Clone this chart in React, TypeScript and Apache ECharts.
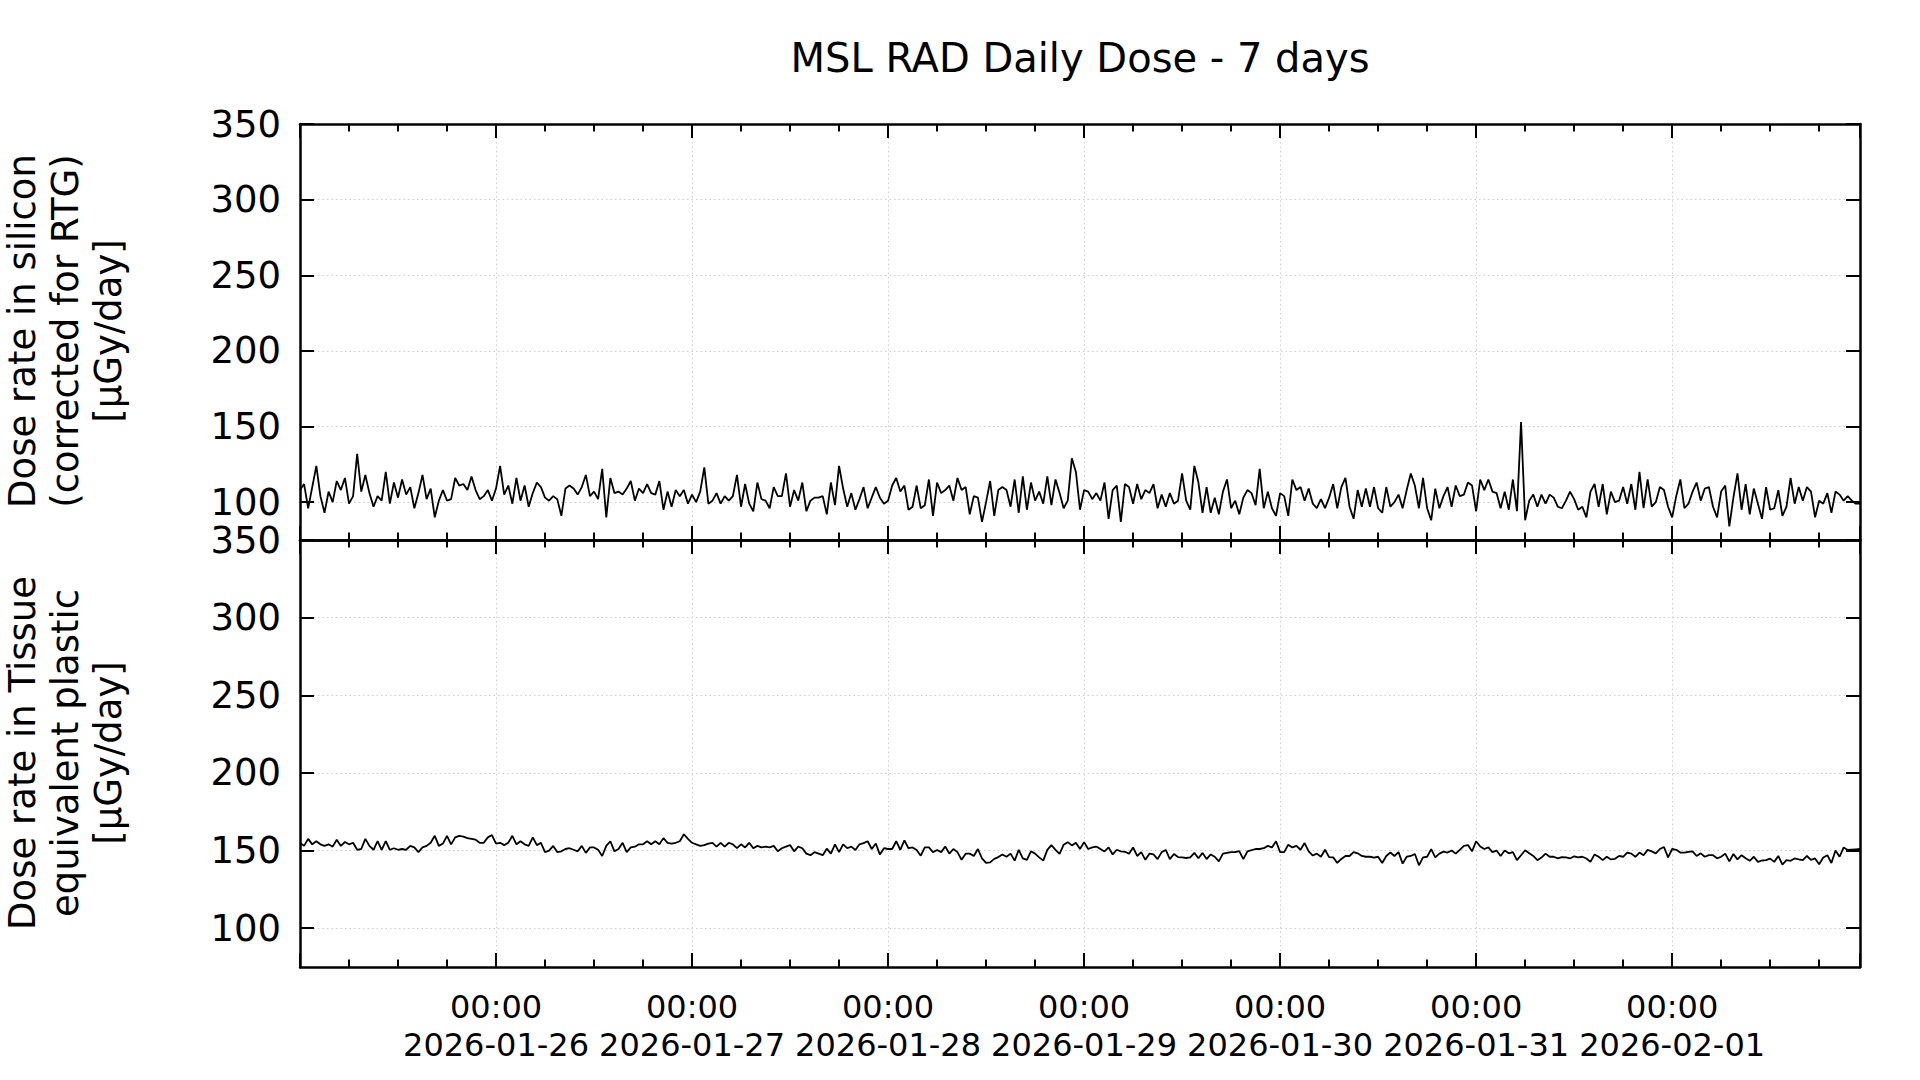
import React, { useEffect, useRef } from "react";
import * as echarts from "echarts";

// Dose rate in silicon (µGy/day), one value every 30 minutes from 2026-01-25 00:00
const SILICON_DOSE = [
  108, 112, 96, 110, 124, 104, 93, 107, 100, 114,
  108, 116, 99, 104, 132, 107, 118, 106, 97, 104,
  101, 120, 99, 113, 103, 115, 105, 110, 96, 106,
  118, 102, 109, 90, 101, 108, 101, 102, 116, 111,
  112, 108, 117, 108, 102, 104, 108, 101, 109, 124,
  105, 111, 99, 116, 101, 111, 97, 106, 113, 110,
  103, 101, 104, 102, 91, 109, 111, 109, 105, 110,
  118, 104, 107, 102, 122, 90, 116, 106, 107, 105,
  109, 114, 101, 109, 106, 112, 106, 105, 114, 95,
  107, 97, 108, 104, 108, 99, 105, 100, 107, 123,
  99, 101, 106, 99, 104, 101, 104, 118, 97, 112,
  99, 94, 113, 102, 101, 96, 110, 104, 104, 119,
  97, 108, 101, 113, 94, 101, 103, 103, 104, 92,
  113, 98, 124, 109, 97, 106, 95, 102, 110, 96,
  103, 110, 103, 99, 101, 111, 116, 107, 111, 95,
  97, 111, 96, 98, 115, 91, 113, 106, 108, 111,
  101, 116, 108, 110, 92, 104, 103, 87, 100, 114,
  91, 108, 110, 108, 97, 115, 93, 117, 95, 113,
  101, 107, 99, 117, 98, 115, 106, 96, 101, 129,
  120, 95, 108, 107, 102, 106, 101, 113, 89, 108,
  111, 87, 112, 110, 99, 112, 102, 108, 106, 112,
  96, 105, 97, 106, 99, 101, 119, 101, 95, 124,
  113, 93, 110, 93, 103, 92, 107, 115, 96, 101,
  92, 103, 108, 106, 98, 122, 96, 107, 96, 91,
  106, 104, 91, 115, 108, 110, 101, 109, 99, 96,
  102, 96, 103, 112, 96, 110, 116, 97, 89, 108,
  97, 109, 97, 110, 96, 93, 110, 97, 100, 105,
  96, 108, 119, 111, 96, 116, 96, 88, 109, 96,
  104, 110, 97, 111, 104, 105, 113, 111, 94, 115,
  108, 115, 107, 106, 96, 107, 95, 115, 94, 153,
  88, 101, 105, 97, 105, 99, 105, 103, 97, 96,
  101, 107, 102, 95, 97, 90, 107, 112, 97, 112,
  92, 107, 100, 101, 110, 99, 112, 95, 120, 96,
  115, 97, 100, 110, 108, 97, 90, 104, 115, 96,
  99, 107, 113, 101, 109, 110, 97, 90, 107, 111,
  84, 103, 119, 95, 112, 92, 109, 99, 89, 110,
  95, 96, 108, 91, 97, 116, 99, 110, 101, 110,
  107, 90, 101, 99, 106, 93, 107, 105, 101, 104,
  101, 99, 99,
];

// Dose rate in tissue equivalent plastic (µGy/day), same sampling
const TISSUE_DOSE = [
  155, 153, 157.5, 154, 156, 154, 153, 154, 152.5, 157,
  153, 155.5, 154, 155, 150.5, 151, 157.5, 153, 150.5, 156,
  150.5, 156, 150.5, 151.5, 150.5, 151, 150.5, 153, 152, 149,
  152, 153, 155, 159.5, 153, 154.5, 159.5, 154, 158.5, 159.5,
  159, 158, 157.5, 157, 155, 155, 158.5, 160, 154.5, 155,
  153.5, 155, 159.5, 154, 156, 154, 153, 158.5, 153.5, 155,
  149, 150, 153, 149, 149.5, 151, 151.5, 150.5, 149.5, 153,
  148.5, 152, 152, 150.5, 146.5, 153, 156, 149.5, 151, 155,
  149, 152, 152.5, 154, 154, 156, 154, 156, 154, 158,
  155, 154.5, 155, 156, 160.5, 157.5, 155, 154, 153, 153.5,
  154.5, 155, 152.5, 155, 152.5, 155, 154, 151.5, 154, 152,
  155, 151.5, 153, 152, 152.5, 152, 153, 149.5, 151.5, 152.5,
  153.5, 149.5, 152.5, 151.5, 148, 147, 149, 148, 147, 151.2,
  148, 154, 149, 154, 151.5, 152.5, 150.4, 154, 154.8, 156,
  151, 154.5, 147.4, 151.5, 151, 151, 156, 150.4, 156.5, 151.5,
  152, 150.4, 146.7, 152, 152, 149, 150.4, 149, 152.6, 148,
  151, 149, 144, 148, 148, 146.5, 151, 145, 142, 142.4,
  144.6, 145.8, 147.5, 146, 148, 143.5, 150.5, 145, 144, 149.5,
  148, 145.6, 143.5, 150.4, 153.5, 150.4, 147.8, 153.8, 155.4, 153.3,
  155, 151, 155.4, 151, 152, 152.6, 151, 149.4, 152, 147.5,
  150.5, 149.5, 149.2, 148, 152, 146.5, 149, 144, 148, 147.5,
  144.5, 149, 150.4, 144.5, 147.8, 145.8, 145.6, 145.2, 145.6, 148.5,
  145, 148.5, 144.5, 147.5, 146, 143, 148, 148.5, 149, 149,
  149.6, 144.5, 149.5, 150.2, 151, 151, 151.5, 153, 152, 156,
  149, 149, 153.8, 152, 153, 150.5, 154.8, 149.5, 146.8, 148,
  146, 150.5, 145.8, 145.6, 142, 144.6, 146.5, 146.5, 149, 148.2,
  146.5, 146, 146, 145.5, 146, 142, 146.5, 148.7, 146.5, 149,
  141.6, 146, 146.5, 147.8, 140.5, 145.6, 146, 150.9, 145.6, 148,
  149.3, 148.7, 150, 148, 150.4, 153, 153.5, 149.5, 156, 152.6,
  151, 152, 149, 150, 146.5, 150, 148.2, 149, 143.8, 147,
  150.2, 148.2, 146.5, 143.8, 145.5, 148, 146, 146, 145, 145.8,
  145.6, 144.9, 146.3, 145.6, 146, 144.9, 142.7, 147.5, 146, 143.8,
  146, 144.3, 144.7, 146.5, 146, 148.7, 148, 146, 148.7, 147,
  150.4, 149.5, 148.2, 151, 152.3, 145.6, 151, 150.5, 148.7, 148.7,
  149.2, 149.5, 146.5, 148.2, 146, 147, 147, 145, 146, 148,
  143, 147.8, 144.3, 147, 145, 143.4, 146, 142.7, 143.6, 143.8,
  144.8, 142.7, 146.5, 141, 143.8, 143.4, 144.9, 144.3, 143.8, 146.5,
  144, 144.9, 141.2, 145.5, 147, 142, 150, 146, 152, 150.4,
  150.6, 150.8, 151,
];

// x axis in hours since 2026-01-25 00:00
const STEP_HOURS = 0.5;
const X_MIN = 0;
const X_MAX = 191;
const DAY_LABELS = [
  "2026-01-26",
  "2026-01-27",
  "2026-01-28",
  "2026-01-29",
  "2026-01-30",
  "2026-01-31",
  "2026-02-01",
];
const Y_TICKS = [100, 150, 200, 250, 300, 350];
const Y_MIN = 75;
const Y_MAX = 350;

const TITLE = "MSL RAD Daily Dose - 7 days";
const Y_NAME_TOP = "Dose rate in silicon\n(corrected for RTG)\n[µGy/day]";
const Y_NAME_BOTTOM = "Dose rate in Tissue\nequivalent plastic\n[µGy/day]";

const FONT = "DejaVu Sans";

function toPoints(values: number[]) {
  return values.map((v, i) => [X_MIN + i * STEP_HOURS, v]);
}

const gridLine = {
  show: true,
  lineStyle: { color: "#cccccc", width: 1, type: [1.5, 3] as any },
};

function xAxesFor(gridIndex: number, showLabels: boolean) {
  const base = {
    type: "value",
    gridIndex,
    min: X_MIN,
    max: X_MAX,
    axisLabel: { show: false },
    splitLine: { show: false },
  };
  const axisLine = {
    show: true,
    onZero: false,
    lineStyle: { color: "#000", width: 2.5 },
  };
  const majorTick = {
    show: true,
    inside: true,
    length: 14,
    lineStyle: { color: "#000", width: 2 },
  };
  const minorTick = {
    show: true,
    inside: true,
    length: 7.5,
    lineStyle: { color: "#000", width: 2 },
  };
  return [
    {
      ...base,
      position: "bottom",
      interval: 24,
      axisLine,
      axisTick: majorTick,
      splitLine: gridLine,
      axisLabel: showLabels
        ? {
            show: true,
            color: "#000",
            fontFamily: FONT,
            fontSize: 32,
            lineHeight: 38,
            margin: 21,
            formatter: (v: number) => {
              if (v <= 0 || v % 24 !== 0) return "";
              const d = DAY_LABELS[v / 24 - 1];
              return d ? "00:00\n" + d : "";
            },
          }
        : { show: false },
    },
    {
      ...base,
      position: "bottom",
      interval: 6,
      axisLine: { show: false, onZero: false },
      axisTick: minorTick,
    },
    {
      ...base,
      position: "top",
      interval: 24,
      axisLine,
      axisTick: majorTick,
    },
    {
      ...base,
      position: "top",
      interval: 6,
      axisLine: { show: false, onZero: false },
      axisTick: minorTick,
    },
  ];
}

function yAxesFor(gridIndex: number) {
  const axisLine = {
    show: true,
    onZero: false,
    lineStyle: { color: "#000", width: 2.5 },
  };
  const tick = {
    show: true,
    inside: true,
    length: 14,
    customValues: Y_TICKS,
    lineStyle: { color: "#000", width: 2 },
  };
  return [
    {
      type: "value",
      gridIndex,
      position: "left",
      min: Y_MIN,
      max: Y_MAX,
      axisLine,
      axisTick: tick,
      axisLabel: {
        show: true,
        customValues: Y_TICKS,
        color: "#000",
        fontFamily: FONT,
        fontSize: 37,
        lineHeight: 34,
        margin: 19,
      },
      splitLine: gridLine,
    },
    {
      type: "value",
      gridIndex,
      position: "right",
      min: Y_MIN,
      max: Y_MAX,
      axisLine,
      axisTick: tick,
      axisLabel: { show: false },
      splitLine: { show: false },
    },
  ];
}

export default function App() {
  const ref = useRef<HTMLDivElement>(null);

  useEffect(() => {
    if (!ref.current) return;
    const chart = echarts.init(ref.current, undefined, { renderer: "svg" });
    const textStyle = (text: string, size: number, lineHeight?: number) => ({
      text,
      fill: "#000",
      fontFamily: FONT,
      fontSize: size,
      lineHeight,
      align: "center",
      verticalAlign: "middle",
      textAlign: "center",
      textVerticalAlign: "middle",
    });
    const option: any = {
      animation: false,
      backgroundColor: "#fff",
      grid: [
        { left: 300, top: 124, width: 1560, height: 416 },
        { left: 300, top: 540, width: 1560, height: 427 },
      ],
      xAxis: [...xAxesFor(0, false), ...xAxesFor(1, true)],
      yAxis: [...yAxesFor(0), ...yAxesFor(1)],
      series: [
        {
          type: "line",
          name: "silicon",
          xAxisIndex: 0,
          yAxisIndex: 0,
          data: toPoints(SILICON_DOSE),
          showSymbol: false,
          symbol: "none",
          lineStyle: { color: "#000", width: 1.8 },
          z: 1,
        },
        {
          type: "line",
          name: "tissue",
          xAxisIndex: 4,
          yAxisIndex: 2,
          data: toPoints(TISSUE_DOSE),
          showSymbol: false,
          symbol: "none",
          lineStyle: { color: "#000", width: 1.8 },
          z: 1,
        },
      ],
      graphic: [
        {
          type: "text",
          x: 1080,
          y: 58,
          style: textStyle(TITLE, 40),
        },
        {
          type: "text",
          x: 65,
          y: 331,
          rotation: Math.PI / 2,
          style: textStyle(Y_NAME_TOP, 37, 43),
        },
        {
          type: "text",
          x: 65,
          y: 753,
          rotation: Math.PI / 2,
          style: textStyle(Y_NAME_BOTTOM, 37, 43),
        },
      ],
    };
    chart.setOption(option);
    return () => chart.dispose();
  }, []);

  return (
    <div
      ref={ref}
      style={{
        position: "fixed",
        left: 0,
        top: 0,
        width: 1920,
        height: 1080,
        background: "#fff",
      }}
    />
  );
}
